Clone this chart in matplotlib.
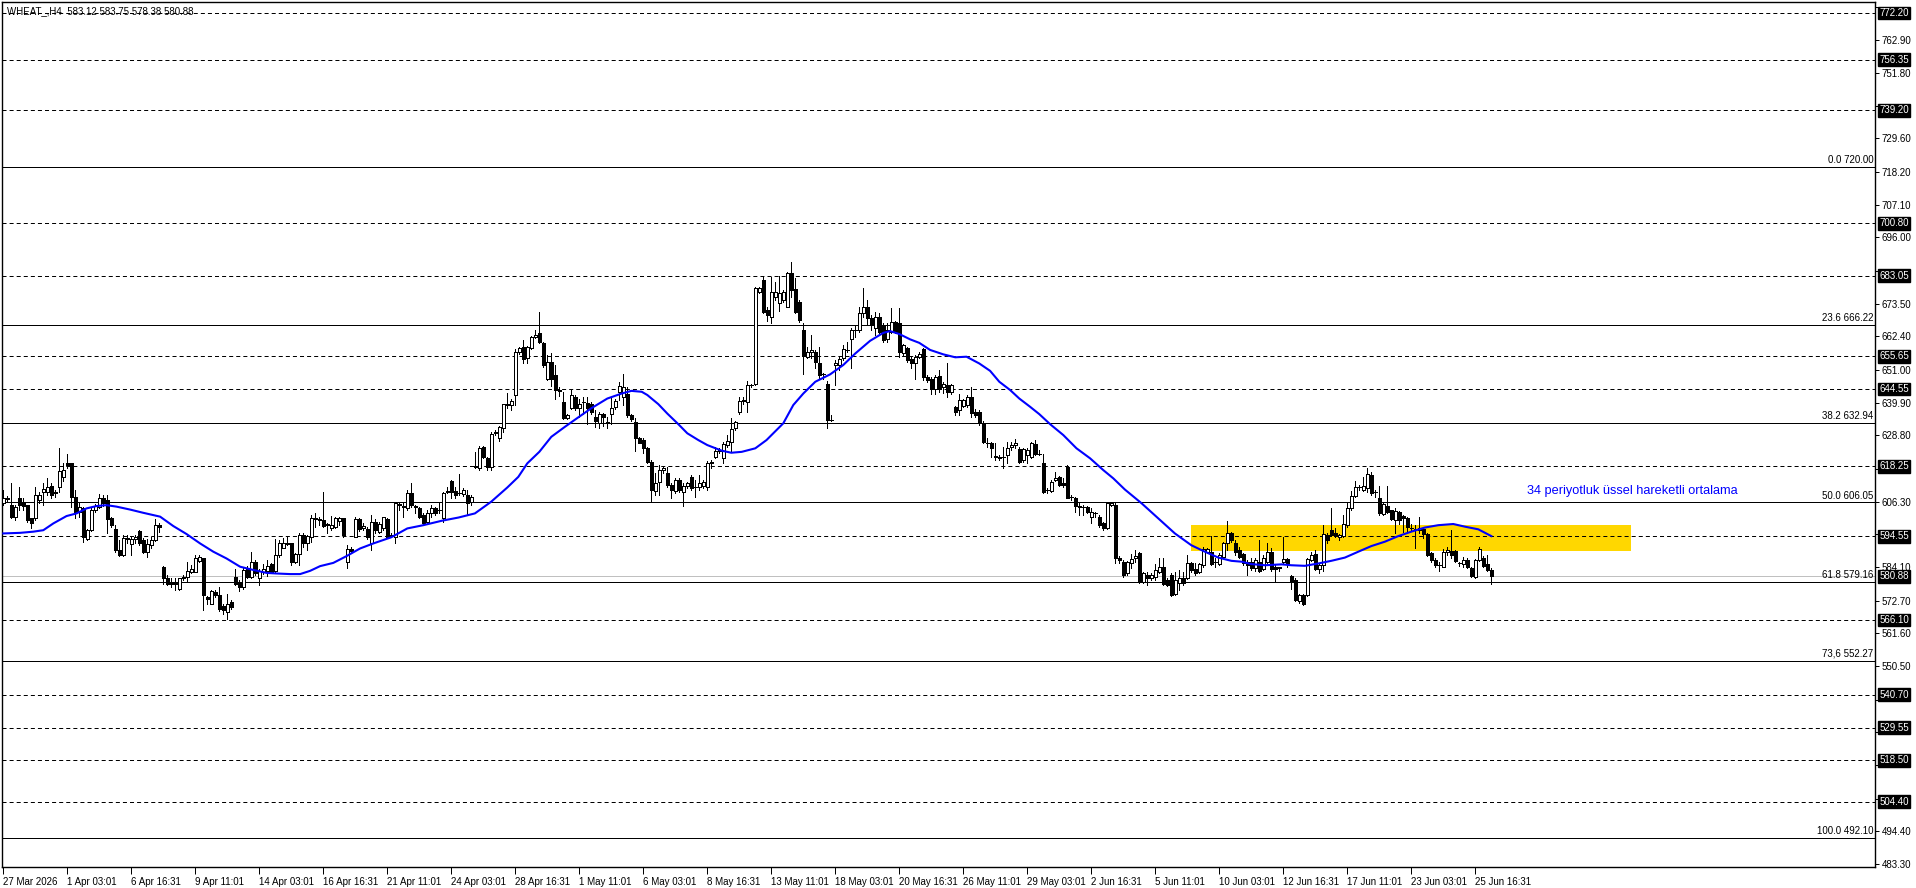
import matplotlib
matplotlib.use('Agg')
import matplotlib.pyplot as plt
import matplotlib.transforms as mtransforms
from matplotlib.patches import Rectangle

plt.rcParams['font.family'] = ['Liberation Sans', 'DejaVu Sans']
plt.rcParams['lines.scale_dashes'] = False

# ---- price data (H4 bars) ----
opens = [
    605.7, 607.4, 605.1, 601.2, 607.7, 605.7, 605.1, 600.6, 600.6, 606.8,
    609.6, 609.6, 611.6, 609.6, 611.1, 614.7, 619.3, 619.3, 607.9, 602.9,
    604.0, 593.5, 596.6, 603.4, 604.6, 607.4, 606.8, 600.6, 596.9, 589.8,
    588.1, 593.8, 591.9, 593.5, 596.4, 593.2, 589.3, 591.5, 593.2, 598.3,
    584.2, 580.2, 579.1, 578.7, 576.5, 580.2, 580.8, 582.5, 582.5, 586.2,
    587.0, 574.0, 571.7, 575.7, 574.6, 570.8, 568.9, 572.3, 580.6, 579.1,
    577.2, 583.3, 580.6, 585.9, 580.2, 582.5, 582.8, 585.1, 582.8, 588.1,
    590.7, 592.3, 592.1, 585.9, 588.5, 594.9, 592.3, 594.4, 600.8, 600.3,
    600.0, 598.7, 597.2, 597.8, 599.8, 600.6, 585.9, 590.1, 594.4, 600.3,
    597.5, 596.9, 592.1, 599.5, 596.1, 597.5, 600.3, 594.9, 594.4, 605.1,
    604.8, 604.0, 609.3, 604.8, 604.0, 601.7, 599.5, 602.3, 604.0, 603.4,
    600.6, 609.6, 613.4, 610.0, 609.1, 608.9, 608.5, 606.2, 618.1, 617.6,
    624.7, 621.0, 618.1, 629.5, 627.8, 631.2, 639.1, 639.1, 642.5, 657.2,
    658.7, 654.9, 658.3, 662.1, 663.6, 660.2, 647.8, 653.8, 649.3, 644.2,
    640.2, 634.6, 638.0, 641.9, 638.0, 640.0, 639.9, 639.4, 634.9, 632.9,
    636.2, 633.2, 636.2, 638.3, 643.6, 641.9, 643.0, 635.6, 633.4, 627.8,
    627.2, 624.4, 619.8, 610.0, 613.0, 617.0, 615.9, 611.9, 610.0, 613.8,
    609.6, 611.6, 614.7, 611.3, 611.3, 611.6, 611.3, 619.3, 621.5, 623.5,
    621.0, 625.5, 626.6, 631.2, 636.8, 640.6, 640.2, 645.9, 646.4, 677.6,
    681.5, 671.3, 669.1, 675.9, 673.8, 674.7, 672.5, 684.0, 678.4, 674.2,
    664.6, 655.5, 657.2, 657.2, 653.5, 649.6, 646.4, 634.0, 652.7, 652.7,
    654.9, 657.8, 661.4, 664.6, 664.6, 670.2, 672.5, 668.5, 665.1, 669.1,
    666.2, 661.4, 664.0, 667.4, 666.8, 656.6, 658.3, 654.6, 653.2, 655.3,
    658.0, 648.7, 647.8, 644.7, 648.9, 645.1, 645.9, 643.6, 638.5, 637.4,
    638.7, 639.1, 641.9, 636.8, 636.8, 633.1, 626.3, 626.3, 621.8, 621.0,
    621.5, 622.1, 624.9, 625.5, 624.0, 620.4, 622.1, 621.5, 625.8, 622.4,
    619.3, 610.4, 610.0, 613.6, 614.7, 612.5, 618.1, 607.9, 607.7, 604.8,
    604.6, 604.6, 601.2, 602.3, 601.2, 599.1, 597.2, 605.1, 605.1, 587.0,
    585.9, 581.9, 585.3, 587.0, 588.7, 579.1, 581.3, 580.2, 580.8, 582.5,
    584.2, 579.6, 581.3, 575.1, 578.7, 580.2, 580.2, 585.5, 583.3, 582.5,
    584.7, 589.3, 589.3, 585.9, 585.1, 587.6, 592.1, 595.5, 592.3, 589.8,
    588.5, 585.9, 585.9, 583.6, 585.9, 583.3, 585.9, 589.3, 584.0, 583.6,
    585.9, 586.7, 581.0, 579.6, 572.6, 574.6, 574.6, 586.5, 588.5, 583.3,
    584.7, 594.9, 596.6, 595.5, 594.2, 594.6, 598.3, 604.0, 608.2, 611.1,
    610.4, 610.8, 615.3, 609.6, 607.7, 602.1, 604.8, 603.4, 600.0, 602.9,
    601.4, 600.6, 597.2, 596.9, 596.6, 596.9, 595.3, 588.7, 586.5, 584.7,
    584.2, 589.3, 589.5, 589.5, 585.3, 585.1, 586.5, 583.6, 580.6, 586.5,
    587.0, 585.1, 583.12,
]
highs = [
    610.2, 608.2, 612.5, 605.1, 611.3, 607.4, 605.3, 600.8, 611.1, 609.6,
    612.5, 614.2, 612.5, 610.4, 624.4, 619.3, 622.4, 619.5, 610.4, 605.7,
    604.6, 596.9, 604.0, 605.5, 608.9, 608.5, 608.5, 601.2, 598.3, 593.2,
    594.9, 594.9, 594.4, 594.9, 596.6, 593.8, 593.5, 594.2, 600.3, 599.1,
    584.4, 581.3, 580.2, 580.2, 580.4, 581.3, 585.9, 584.7, 588.1, 588.1,
    587.2, 574.2, 576.3, 576.3, 577.4, 571.7, 575.1, 572.9, 583.3, 579.6,
    583.6, 584.4, 589.3, 586.5, 583.3, 585.1, 586.5, 585.5, 593.5, 593.2,
    593.8, 594.6, 592.3, 588.9, 595.5, 595.7, 594.9, 601.7, 602.3, 601.2,
    609.6, 599.1, 601.4, 601.2, 601.2, 600.8, 591.5, 591.0, 601.2, 600.8,
    598.9, 597.8, 601.7, 600.3, 599.5, 601.2, 600.6, 595.5, 605.9, 605.9,
    605.7, 610.2, 612.5, 605.1, 604.6, 602.3, 603.4, 605.1, 604.6, 605.7,
    609.6, 611.1, 613.8, 611.3, 615.6, 610.8, 610.4, 608.5, 623.2, 625.2,
    625.2, 621.5, 630.0, 630.6, 632.0, 639.6, 643.3, 641.0, 658.0, 658.9,
    661.2, 659.1, 662.5, 664.6, 670.8, 660.6, 656.1, 656.9, 652.7, 645.1,
    643.6, 636.2, 644.2, 642.5, 641.3, 641.9, 641.9, 640.2, 637.4, 636.8,
    636.5, 635.1, 641.9, 641.3, 647.0, 649.8, 645.3, 636.2, 634.6, 628.3,
    627.8, 624.9, 620.4, 615.9, 618.7, 618.4, 618.1, 612.5, 614.2, 614.2,
    612.5, 613.0, 615.3, 613.6, 615.3, 613.6, 620.2, 620.4, 624.9, 624.4,
    626.6, 628.9, 634.6, 633.8, 641.9, 641.9, 647.4, 646.2, 679.3, 679.3,
    682.4, 672.5, 682.7, 681.0, 682.9, 678.1, 684.4, 687.8, 682.1, 674.7,
    666.8, 658.7, 662.8, 657.8, 658.9, 650.1, 647.4, 635.7, 654.4, 655.7,
    659.5, 660.6, 665.1, 665.9, 672.5, 678.7, 674.7, 669.6, 670.8, 670.2,
    666.8, 666.8, 671.9, 667.7, 671.9, 659.8, 658.9, 655.5, 656.1, 657.2,
    658.3, 649.3, 648.7, 649.3, 651.0, 647.0, 653.5, 646.4, 638.7, 643.0,
    641.3, 642.5, 645.3, 637.6, 637.4, 633.8, 627.8, 626.6, 626.1, 622.1,
    624.9, 626.6, 626.6, 627.4, 624.9, 624.4, 624.4, 626.6, 627.2, 623.8,
    622.4, 610.8, 613.6, 616.4, 615.0, 614.2, 618.9, 608.7, 607.9, 605.7,
    605.1, 604.8, 604.0, 602.9, 601.7, 599.5, 606.2, 606.2, 606.2, 587.8,
    586.5, 586.2, 588.5, 589.8, 589.3, 582.5, 582.5, 582.1, 585.1, 587.0,
    587.0, 580.2, 581.9, 582.5, 583.1, 582.5, 588.1, 585.9, 585.3, 585.5,
    591.0, 590.4, 594.6, 587.0, 588.7, 592.7, 599.8, 596.1, 593.2, 591.0,
    588.9, 586.5, 587.0, 587.0, 593.2, 588.1, 592.1, 590.4, 584.7, 584.2,
    594.2, 587.0, 581.3, 580.2, 575.1, 574.9, 587.0, 589.3, 589.8, 585.3,
    598.3, 595.5, 604.0, 597.2, 595.3, 601.7, 605.9, 610.0, 613.4, 611.9,
    614.5, 617.6, 616.4, 610.2, 611.6, 605.7, 611.6, 603.6, 604.0, 603.2,
    601.7, 601.2, 598.7, 598.3, 601.2, 597.5, 595.7, 589.3, 587.3, 585.9,
    590.1, 591.0, 596.6, 589.8, 585.9, 587.6, 587.0, 584.2, 586.7, 591.0,
    587.8, 588.1, 583.75,
]
lows = [
    605.1, 606.6, 600.6, 600.0, 603.4, 603.4, 599.5, 597.2, 600.0, 606.0,
    605.1, 608.5, 607.4, 607.9, 609.6, 613.4, 617.6, 604.6, 600.6, 601.2,
    592.7, 593.2, 596.4, 602.9, 604.0, 604.8, 595.5, 597.8, 589.3, 587.8,
    587.8, 592.1, 588.1, 592.1, 591.5, 588.7, 587.6, 590.4, 593.0, 596.1,
    578.5, 577.9, 577.2, 576.3, 576.3, 579.6, 579.1, 581.9, 582.3, 585.9,
    569.5, 571.7, 571.5, 574.0, 569.2, 568.3, 566.6, 570.0, 577.9, 576.0,
    576.8, 580.2, 580.2, 581.3, 577.9, 581.7, 581.0, 581.9, 582.5, 587.6,
    590.4, 591.5, 584.7, 585.5, 584.7, 591.0, 589.8, 592.7, 597.8, 598.3,
    597.8, 595.5, 596.6, 597.2, 598.3, 594.4, 583.6, 588.7, 594.2, 596.4,
    596.6, 593.5, 589.8, 595.7, 595.5, 596.6, 594.2, 594.4, 592.1, 603.4,
    601.2, 603.4, 604.6, 602.3, 600.6, 598.3, 599.1, 601.2, 601.7, 602.3,
    599.5, 609.1, 607.4, 607.4, 608.5, 608.2, 601.7, 605.1, 617.6, 617.2,
    621.0, 617.2, 617.0, 628.9, 627.0, 630.0, 638.0, 637.4, 639.1, 656.4,
    653.2, 653.2, 658.0, 661.7, 660.0, 652.1, 647.6, 645.5, 641.3, 642.1,
    634.2, 634.2, 637.6, 637.4, 635.1, 636.2, 632.6, 636.2, 631.7, 631.2,
    632.0, 631.2, 632.6, 637.6, 640.8, 639.1, 635.1, 633.8, 623.6, 626.1,
    622.7, 619.5, 606.2, 608.5, 608.5, 616.1, 611.3, 607.4, 609.3, 609.6,
    604.8, 610.8, 610.4, 607.9, 610.4, 610.8, 610.2, 617.6, 621.0, 622.7,
    619.3, 624.9, 623.2, 630.6, 636.2, 639.6, 636.8, 645.3, 645.9, 677.0,
    670.4, 667.7, 666.8, 674.7, 671.1, 674.2, 672.3, 675.9, 670.2, 667.4,
    649.8, 654.9, 654.9, 651.5, 648.1, 648.1, 631.2, 633.8, 645.9, 651.0,
    654.4, 657.2, 651.5, 662.3, 664.0, 669.1, 666.2, 664.6, 662.8, 663.4,
    660.6, 660.6, 663.4, 663.4, 655.5, 656.1, 653.8, 651.5, 647.8, 654.9,
    647.6, 647.0, 643.0, 642.8, 643.6, 643.3, 641.9, 643.0, 635.7, 635.7,
    638.5, 638.5, 635.1, 635.1, 632.3, 626.1, 624.9, 621.5, 620.4, 620.4,
    617.6, 619.3, 623.8, 624.4, 619.3, 619.8, 619.3, 621.0, 622.1, 622.1,
    609.1, 609.1, 609.6, 613.3, 611.6, 611.3, 607.4, 607.0, 602.9, 601.7,
    601.7, 602.3, 599.1, 601.2, 597.8, 596.6, 596.9, 604.8, 585.3, 585.3,
    580.8, 581.3, 583.6, 585.9, 578.7, 578.7, 577.9, 579.6, 579.6, 582.1,
    577.9, 577.6, 574.2, 574.6, 576.3, 577.9, 579.9, 582.5, 581.3, 582.1,
    584.2, 588.9, 584.7, 584.2, 584.7, 587.0, 589.8, 592.7, 588.1, 587.0,
    584.7, 581.3, 583.1, 582.8, 582.5, 583.1, 585.3, 582.8, 579.1, 582.8,
    585.3, 584.2, 576.5, 572.6, 572.0, 571.2, 574.2, 586.2, 583.1, 582.1,
    582.8, 592.3, 594.6, 594.2, 593.2, 594.4, 597.8, 603.6, 607.9, 610.4,
    610.0, 609.6, 608.5, 607.9, 601.7, 601.7, 602.3, 600.0, 595.5, 598.7,
    596.1, 596.4, 596.4, 590.7, 595.7, 593.8, 587.8, 585.9, 584.0, 582.8,
    584.0, 588.1, 587.0, 585.9, 584.4, 584.2, 583.6, 580.6, 580.2, 586.2,
    584.0, 582.8, 578.38,
]
closes = [
    607.4, 607.2, 601.2, 604.6, 605.1, 604.8, 600.0, 598.9, 608.7, 608.7,
    610.5, 611.3, 608.5, 609.1, 616.8, 617.0, 618.7, 607.9, 602.9, 604.6,
    594.2, 596.6, 603.6, 604.8, 607.4, 605.7, 600.3, 598.3, 589.8, 588.1,
    593.8, 593.5, 593.5, 594.4, 592.1, 589.3, 591.9, 593.2, 598.3, 597.8,
    580.2, 578.5, 578.5, 578.5, 580.2, 580.8, 582.8, 583.3, 587.0, 587.6,
    574.6, 573.4, 576.0, 574.6, 569.7, 569.5, 571.7, 570.6, 578.5, 577.4,
    583.1, 580.6, 585.9, 581.9, 582.8, 583.3, 584.4, 582.5, 588.1, 592.1,
    592.1, 591.9, 585.9, 588.5, 594.9, 592.1, 594.6, 600.6, 600.3, 600.0,
    598.0, 598.2, 598.3, 600.6, 600.6, 594.9, 590.1, 589.5, 600.3, 596.9,
    598.0, 594.2, 599.5, 596.6, 598.7, 601.2, 594.4, 594.6, 605.7, 605.5,
    604.6, 609.3, 605.1, 604.6, 601.2, 598.9, 602.3, 604.0, 602.3, 603.6,
    609.1, 610.0, 609.6, 608.5, 609.3, 610.2, 606.0, 607.9, 618.4, 624.4,
    621.3, 618.1, 629.2, 630.0, 631.5, 639.4, 639.6, 640.6, 657.2, 658.3,
    654.6, 658.7, 662.1, 662.8, 660.6, 652.7, 653.8, 647.8, 644.2, 644.0,
    634.6, 635.7, 642.5, 638.0, 639.6, 640.2, 638.0, 636.8, 633.8, 636.2,
    634.9, 633.1, 638.0, 640.6, 645.5, 645.3, 635.7, 634.2, 627.8, 626.3,
    624.4, 619.8, 610.2, 612.7, 617.2, 617.6, 611.9, 610.2, 613.6, 610.2,
    611.6, 612.5, 610.8, 611.1, 612.5, 613.0, 619.3, 619.8, 623.5, 623.8,
    625.8, 627.0, 630.8, 633.2, 640.6, 640.8, 645.9, 645.9, 678.7, 678.7,
    670.8, 669.6, 677.6, 677.6, 677.2, 677.6, 683.8, 678.1, 670.8, 667.9,
    655.7, 657.2, 657.8, 653.8, 649.3, 649.6, 634.0, 634.0, 653.2, 654.6,
    658.0, 657.8, 664.6, 664.6, 670.2, 672.5, 668.5, 666.2, 669.1, 664.0,
    661.2, 664.6, 667.4, 664.0, 657.2, 659.5, 654.4, 653.2, 655.5, 656.4,
    648.7, 647.6, 644.7, 648.7, 644.7, 646.4, 643.6, 645.9, 636.8, 640.8,
    640.8, 641.9, 636.5, 635.7, 632.9, 626.6, 626.3, 624.4, 621.3, 621.5,
    621.5, 624.4, 625.5, 626.1, 619.8, 624.0, 623.8, 626.1, 622.4, 622.4,
    609.6, 610.4, 613.0, 614.4, 611.9, 611.9, 607.7, 607.9, 604.8, 604.6,
    604.6, 602.9, 602.9, 602.3, 598.3, 597.2, 605.9, 605.9, 587.0, 586.5,
    581.3, 585.9, 586.7, 587.8, 579.1, 582.1, 580.2, 581.3, 583.1, 584.2,
    578.5, 577.9, 574.6, 579.6, 580.2, 578.7, 585.3, 583.1, 582.1, 585.1,
    590.1, 590.1, 585.1, 585.9, 588.1, 592.1, 595.5, 593.2, 589.3, 587.6,
    585.5, 584.7, 583.6, 586.5, 582.8, 587.3, 589.3, 583.3, 583.3, 584.0,
    586.7, 585.5, 579.1, 572.9, 574.6, 571.5, 586.7, 588.1, 583.3, 584.7,
    595.3, 593.2, 594.9, 594.6, 594.9, 598.7, 604.0, 608.2, 611.1, 611.1,
    611.6, 615.6, 609.3, 609.6, 602.3, 605.5, 602.9, 600.3, 603.2, 600.0,
    600.6, 597.8, 597.2, 596.9, 597.5, 595.3, 588.1, 586.5, 584.7, 584.7,
    589.3, 589.8, 588.1, 586.2, 585.3, 586.5, 584.0, 581.0, 586.5, 590.1,
    584.4, 583.1, 580.88,
]

# 34-period EMA line at sample bars
ema_bars = [0, 4.2, 7.5, 10, 12.5, 15.8, 18.3, 20.8, 23.3, 25.8, 28.3, 31.7, 35, 39.2,
            42.5, 45.8, 49.2, 52.5, 55.8, 59.2, 62.5, 65.8, 68.3, 71.7, 74.2, 76.7, 79.2,
            82.5, 85.8, 89.2, 92.5, 97, 101, 105, 109.6, 113.8, 117.9, 122, 126, 128.75,
            131, 134, 137, 140.4, 143, 147, 151, 154.6, 157, 159.6, 161, 163.75, 166,
            168.75, 171, 173.75, 176, 179.6, 182, 184.6, 188, 190.8, 195, 197.5, 200,
            203, 206.7, 210, 213, 216.7, 220, 221.7, 224, 226.7, 229, 231.7, 235, 238,
            240.8, 244, 246.7, 249, 251.7, 254, 256.7, 259, 261.7, 265, 268.3, 271.7,
            275, 277.5, 280.4, 284.6, 288.75, 292.9, 297, 300.4, 303.75, 307, 309.6, 312,
            315.4, 319.6, 322, 325.4, 328.75, 332, 335.4, 338.75, 342, 345.4, 348.75,
            352, 355.4, 358.75, 362.5, 365.4, 368.75, 372]
ema_vals = [595.5, 595.7, 596.1, 596.6, 598.9, 601.4, 602.3, 604.0, 604.8, 605.1, 604.6,
            603.6, 602.5, 601.2, 598.0, 595.3, 592.1, 589.3, 587.0, 584.2, 583.1, 582.1,
            581.9, 581.7, 581.7, 582.8, 584.4, 585.5, 587.8, 590.4, 592.1, 594.2, 597.2,
            598.3, 599.8, 600.9, 602.3, 606.3, 611.1, 614.7, 619.3, 623.2, 628.3, 631.7,
            634.2, 638.0, 641.3, 643.0, 643.9, 643.6, 642.5, 639.4, 636.2, 632.6, 629.5,
            627.2, 625.5, 623.6, 622.9, 623.2, 624.4, 627.2, 632.9, 639.1, 643.0, 647.0,
            649.5, 652.7, 656.6, 660.9, 663.6, 664.2, 663.2, 661.4, 660.2, 657.8, 656.3,
            655.3, 655.5, 653.2, 650.7, 647.0, 644.2, 641.3, 638.5, 636.0, 632.6, 628.9,
            624.4, 621.0, 617.0, 614.2, 610.4, 605.7, 600.6, 595.5, 591.5, 589.3, 587.3,
            586.2, 585.9, 585.1, 584.7, 585.0, 584.7, 584.5, 585.3, 586.2, 587.3, 589.3,
            591.2, 592.7, 594.6, 596.1, 597.5, 598.3, 598.7, 597.8, 596.9, 594.6]

date_labels = ['27 Mar 2026', '1 Apr 03:01', '6 Apr 16:31', '9 Apr 11:01', '14 Apr 03:01',
               '16 Apr 16:31', '21 Apr 11:01', '24 Apr 03:01', '28 Apr 16:31', '1 May 11:01',
               '6 May 03:01', '8 May 16:31', '13 May 11:01', '18 May 03:01', '20 May 16:31',
               '26 May 11:01', '29 May 03:01', '2 Jun 16:31', '5 Jun 11:01', '10 Jun 03:01',
               '12 Jun 16:31', '17 Jun 11:01', '23 Jun 03:01', '25 Jun 16:31']
bars_per_label = 16

level_lines = [772.20, 756.35, 739.20, 700.80, 683.05, 655.65, 644.55, 618.25,
               594.55, 566.10, 540.70, 529.55, 518.50, 504.40]
fib_levels = [720.00, 666.22, 632.94, 606.05, 579.16, 552.27, 492.10]
fib_labels = ['0.0 720.00', '23.6 666.22', '38.2 632.94', '50.0 606.05',
              '61.8 579.16', '73,6 552.27', '100.0 492.10']
bid_price = 580.88
axis_ticks = [774.30, 762.90, 751.80, 740.70, 729.60, 718.20, 707.10, 696.00, 684.60,
              673.50, 662.40, 651.00, 639.90, 628.80, 617.40, 606.30, 595.20, 584.10,
              572.70, 561.60, 550.50, 539.10, 528.00, 516.90, 505.50, 494.40, 483.30]

zone_start, zone_end = 297, 407
zone_low, zone_high = 589.5, 598.4

title = 'WHEAT_,H4  583.12 583.75 578.38 580.88'
ema_note = '34 periyotluk üssel hareketli ortalama'

n = len(closes)
x = list(range(n))

# ---- figure ----
W, H = 1916, 888
fig = plt.figure(figsize=(W / 100, H / 100), dpi=100)
left_px, right_px, top_px, bottom_px = 2, 1875, 2, 867
ax = fig.add_axes([left_px / W, 1 - bottom_px / H,
                   (right_px - left_px) / W, (bottom_px - top_px) / H])
ax.set_xlim(-0.33, 467.93)
ax.set_ylim(482.25, 775.93)

px = 0.72  # one pixel in points
fs = 7

# yellow zone
ax.add_patch(Rectangle((zone_start, zone_low), zone_end - zone_start, zone_high - zone_low,
                       facecolor='#FFD700', edgecolor='none', zorder=1))

for lv in level_lines:
    ax.axhline(lv, color='black', linewidth=px, linestyle=(0, (2.9, 2.2)), zorder=2)
for lv in fib_levels:
    ax.axhline(lv, color='black', linewidth=px, zorder=2)
ax.axhline(bid_price, color='#C0C0C0', linewidth=px, zorder=2)

# candles
ax.vlines(x, lows, highs, color='black', linewidth=px, zorder=3, antialiased=False)
bottoms = [min(o, c) for o, c in zip(opens, closes)]
heights = [abs(c - o) for o, c in zip(opens, closes)]
colors = ['white' if c >= o else 'black' for o, c in zip(opens, closes)]
ax.bar(x, heights, bottom=bottoms, width=0.7, color=colors, edgecolor='black',
       linewidth=px, zorder=4, antialiased=False)

ax.plot(ema_bars, ema_vals, color='#0000FF', linewidth=1.5, zorder=5,
        solid_joinstyle='round')

# texts
blend = mtransforms.blended_transform_factory(ax.transAxes, ax.transData)
for lv, lab in zip(fib_levels, fib_labels):
    ax.text(0.999, lv + 0.6, lab, transform=blend, ha='right', va='bottom',
            fontsize=fs, color='black', zorder=6)
ax.text(0.0027, 0.9896, title, transform=ax.transAxes, ha='left', va='center',
        fontsize=fs, color='black', zorder=6)
ax.text(381, 609.9, ema_note, ha='left', va='center', fontsize=9.2, color='#0000FF', zorder=6)

# axes styling
for s in ax.spines.values():
    s.set_linewidth(1.0)
    s.set_color('black')
ax.yaxis.tick_right()
ax.set_yticks(axis_ticks)
boxed = level_lines + [bid_price]
ytick_text = []
for v in axis_ticks:
    # labels sitting under a price box are hidden, as in the terminal
    hidden = any(abs(v - b) < 2.6 for b in boxed)
    ytick_text.append('' if hidden else '%.2f' % v)
ax.set_yticklabels(ytick_text)
ax.tick_params(axis='y', length=3, width=px, pad=2, labelsize=fs)
ax.set_xticks([i * bars_per_label for i in range(len(date_labels))])
ax.set_xticklabels(date_labels, ha='left')
ax.tick_params(axis='x', length=5, width=px, pad=2, labelsize=fs)

# price boxes on the right axis
for lv in boxed:
    ax.text(1.0022, lv, '%.2f' % lv, transform=blend, ha='left', va='center',
            fontsize=fs, color='white', zorder=7, clip_on=False,
            bbox=dict(boxstyle='square,pad=0.15', facecolor='black', edgecolor='black'))

fig.savefig('out.png', dpi=100)
plt.close(fig)
